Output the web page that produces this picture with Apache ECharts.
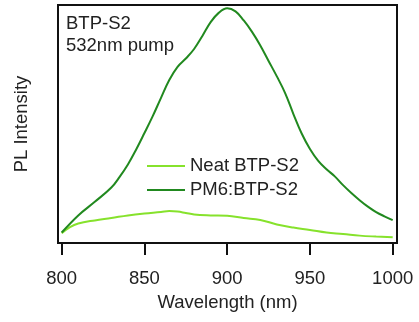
<!DOCTYPE html>
<html>
<head>
<meta charset="utf-8">
<script src="https://cdn.jsdelivr.net/npm/echarts@6/dist/echarts.min.js"></script>
<style>
html,body{margin:0;padding:0;background:#fff;}
#chart{width:419px;height:322px;}
</style>
</head>
<body>
<div id="chart"></div>
<script>
var wavelengthTicks = [800, 850, 900, 950, 1000];

var neatWavelength = [800, 805, 810, 820, 830, 840, 850, 860, 865, 870, 875, 880, 890, 900, 910, 920, 930, 940, 950, 960, 970, 980, 990, 1000];
var neatIntensity  = [4.1, 6.7, 8.2, 9.5, 10.5, 11.6, 12.4, 13.0, 13.4, 13.2, 12.6, 12.0, 11.6, 11.4, 10.5, 9.7, 7.8, 6.5, 5.5, 4.4, 3.8, 3.1, 2.7, 2.4];

var blendWavelength = [800, 810, 820, 830, 835, 840, 845, 850, 855, 860, 865, 870, 875, 880, 885, 890, 895, 900, 905, 910, 915, 920, 925, 930, 935, 940, 945, 950, 955, 960, 965, 970, 975, 980, 985, 990, 995, 1000];
var blendIntensity  = [4.4, 11.6, 17.3, 23.3, 27.8, 33.0, 39.3, 46.2, 53.3, 61.0, 68.5, 74.0, 77.5, 81.5, 87.0, 92.8, 96.8, 98.6, 97.3, 93.5, 88.7, 83.0, 76.5, 70.0, 63.0, 54.2, 46.0, 39.5, 34.5, 31.0, 28.0, 24.3, 21.0, 18.0, 15.3, 13.0, 11.2, 9.6];

var seriesNames = ['Neat BTP-S2', 'PM6:BTP-S2'];
var annotation = 'BTP-S2\n532nm pump';

function pairs(xs, ys) {
  return xs.map(function (x, i) { return [x, ys[i]]; });
}

var FONT = 'Liberation Sans, Arial, sans-serif';
var TXT = '#222';

var chart = echarts.init(document.getElementById('chart'), null, {renderer: 'canvas'});
chart.setOption({
  animation: false,
  backgroundColor: '#fff',
  title: {
    text: annotation,
    left: 66,
    top: 13,
    padding: 0,
    textStyle: {fontFamily: FONT, fontSize: 18.5, fontWeight: 'normal', color: TXT, lineHeight: 22}
  },
  legend: {
    orient: 'vertical',
    left: 147,
    top: 154,
    padding: 0,
    itemGap: 0,
    itemWidth: 38,
    itemHeight: 2,
    icon: 'rect',
    data: seriesNames,
    textStyle: {fontFamily: FONT, fontSize: 18.5, color: TXT, lineHeight: 24}
  },
  grid: {
    left: 58, top: 5, right: 22, bottom: 79,
    show: true, borderColor: '#111', borderWidth: 2, backgroundColor: '#fff'
  },
  xAxis: {
    type: 'value',
    min: 797.76,
    max: 1002.6,
    name: 'Wavelength (nm)',
    nameLocation: 'middle',
    nameGap: 50,
    nameTextStyle: {fontFamily: FONT, fontSize: 18.5, color: TXT},
    axisLine: {show: false},
    splitLine: {show: false},
    axisTick: {show: true, customValues: wavelengthTicks, length: 12, lineStyle: {color: '#111', width: 2}},
    axisLabel: {
      customValues: wavelengthTicks, margin: 26, fontFamily: FONT, fontSize: 18.5, color: TXT,
      formatter: function (v) { return String(v); }
    }
  },
  yAxis: {
    type: 'value',
    min: 0,
    max: 100,
    name: 'PL Intensity',
    nameLocation: 'middle',
    nameGap: 27,
    nameTextStyle: {fontFamily: FONT, fontSize: 18.5, color: TXT},
    axisLine: {show: false},
    axisTick: {show: false},
    axisLabel: {show: false},
    splitLine: {show: false}
  },
  series: [
    {
      name: seriesNames[0],
      type: 'line',
      data: pairs(neatWavelength, neatIntensity),
      symbol: 'none',
      smooth: 0.4,
      color: '#86e22c',
      lineStyle: {width: 2, color: '#86e22c'}
    },
    {
      name: seriesNames[1],
      type: 'line',
      data: pairs(blendWavelength, blendIntensity),
      symbol: 'none',
      smooth: 0.4,
      color: '#21891f',
      lineStyle: {width: 2, color: '#21891f'}
    }
  ]
});
</script>
</body>
</html>
